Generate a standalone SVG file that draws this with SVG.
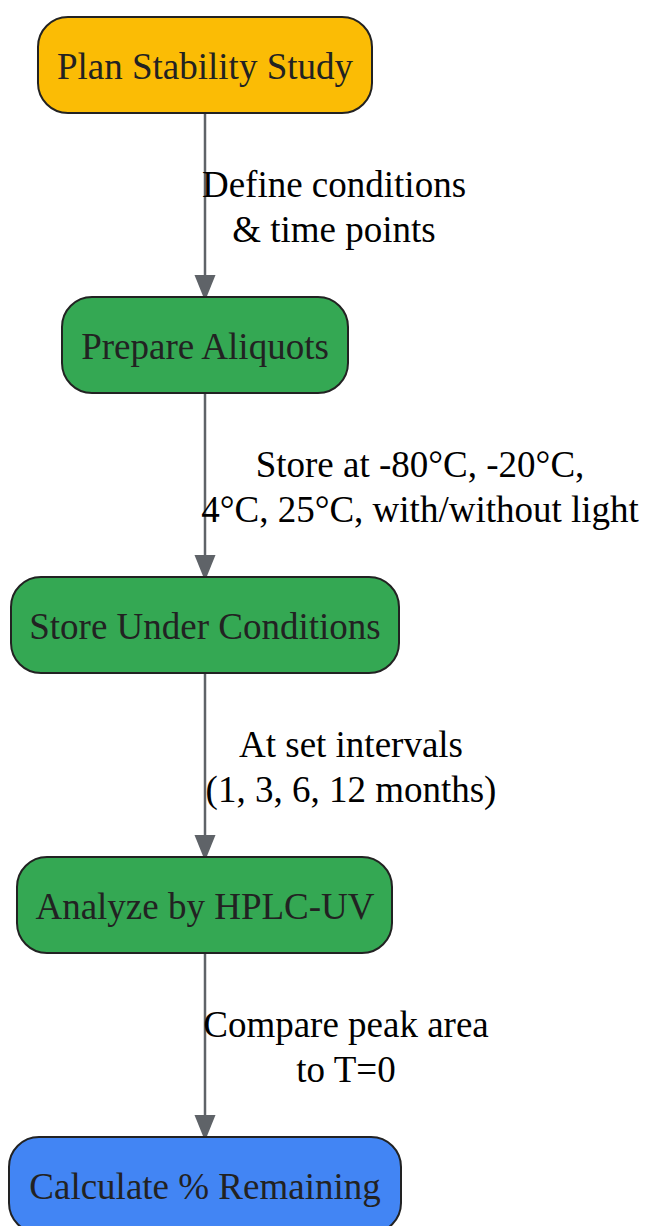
<svg xmlns="http://www.w3.org/2000/svg" width="646" height="1226" viewBox="0 0 646 1226">
<defs>
<style>
.node rect{stroke:#222222;stroke-width:2}
.node text{font-family:"Liberation Serif",serif;font-size:37px;fill:#222222;text-anchor:middle}
.edge line{stroke:#5f6368;stroke-width:2.5}
.lbl{font-family:"Liberation Serif",serif;font-size:37px;fill:#000;text-anchor:middle}
</style>
<marker id="arr" markerWidth="26" markerHeight="32" refX="26" refY="13" orient="auto" markerUnits="userSpaceOnUse" viewBox="0 0 32 26">
<path d="M0,0 L32,13 L0,26 Z" fill="#5f6368"/>
</marker>
</defs>
<rect width="646" height="1226" fill="#ffffff"/>
<g id="edges" class="edge">
<line x1="205" y1="113" x2="205" y2="296" marker-end="url(#arr)"/>
<line x1="205" y1="393" x2="205" y2="576" marker-end="url(#arr)"/>
<line x1="205" y1="673" x2="205" y2="856" marker-end="url(#arr)"/>
<line x1="205" y1="953" x2="205" y2="1136" marker-end="url(#arr)"/>
<text class="lbl" x="334" y="197">Define conditions</text>
<text class="lbl" x="334" y="242">&amp; time points</text>
<text class="lbl" x="420" y="477">Store at -80°C, -20°C,</text>
<text class="lbl" x="420" y="522">4°C, 25°C, with/without light</text>
<text class="lbl" x="351" y="757">At set intervals</text>
<text class="lbl" x="351" y="802">(1, 3, 6, 12 months)</text>
<text class="lbl" x="346" y="1037">Compare peak area</text>
<text class="lbl" x="346" y="1082">to T=0</text>
</g>
<g id="n1" class="node"><rect x="38" y="17" width="334" height="96" rx="30" fill="#fbbc05"/><text x="205" y="79">Plan Stability Study</text></g>
<g id="n2" class="node"><rect x="62" y="297" width="286" height="96" rx="30" fill="#34a853"/><text x="205" y="359">Prepare Aliquots</text></g>
<g id="n3" class="node"><rect x="11" y="577" width="388" height="96" rx="30" fill="#34a853"/><text x="205" y="639">Store Under Conditions</text></g>
<g id="n4" class="node"><rect x="17" y="857" width="375" height="96" rx="30" fill="#34a853"/><text x="205" y="919">Analyze by HPLC-UV</text></g>
<g id="n5" class="node"><rect x="9" y="1137" width="392" height="96" rx="30" fill="#4285f4"/><text x="205" y="1199">Calculate % Remaining</text></g>
</svg>
